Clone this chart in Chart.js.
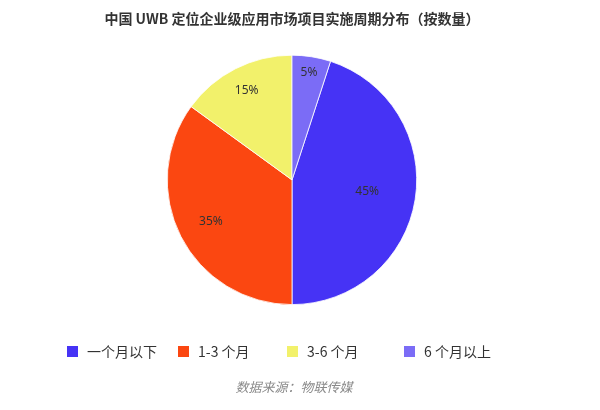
<!DOCTYPE html>
<html>
<head>
<meta charset="utf-8">
<script src="https://cdn.jsdelivr.net/npm/chart.js@4/dist/chart.umd.min.js"></script>
<style>
  body { margin: 0; background: #fff; font-family: "Noto Sans CJK SC", "Noto Sans", sans-serif; }
  #wrap { position: relative; width: 600px; height: 410px; }
  #pieChart { position: absolute; left: 0; top: 0; }
  #legend { position: absolute; top: 341px; left: 0; width: 600px; height: 20px; }
  .item { position: absolute; top: 0; display: flex; align-items: center; font-size: 14px; color: #333; white-space: nowrap; }
  .item .box { width: 11px; height: 11px; margin-right: 9px; }
  .item:nth-child(1) { left: 67px; }
  .item:nth-child(2) { left: 178px; }
  .item:nth-child(3) { left: 287px; }
  .item:nth-child(4) { left: 404px; }
  #source { position: absolute; top: 377px; left: 0; width: 588px; text-align: center; font-size: 13px; font-style: italic; color: #8a8a8a; }
</style>
</head>
<body>
<div id="wrap">
  <canvas id="pieChart" width="600" height="410"></canvas>
  <div id="legend"></div>
  <div id="source">数据来源：物联传媒</div>
</div>
<script>
const categories = ['一个月以下', '1-3 个月', '3-6 个月', '6 个月以上'];
const shares = [45, 35, 15, 5];
const colors = ['#4633f5', '#fb4711', '#f2f16b', '#7b6cf6'];

// inside labels, pushed outward more on the small slices
const labelPlugin = {
  id: 'sliceLabels',
  afterDatasetsDraw(chart, args, opts) {
    const ctx = chart.ctx;
    const meta = chart.getDatasetMeta(0);
    ctx.save();
    ctx.font = '12px "Noto Sans", "DejaVu Sans", sans-serif';
    ctx.fillStyle = '#333';
    ctx.textAlign = 'center';
    ctx.textBaseline = 'middle';
    meta.data.forEach((arc, i) => {
      const p = arc.getProps(['x', 'y', 'startAngle', 'endAngle', 'outerRadius'], true);
      const mid = (p.startAngle + p.endAngle) / 2;
      const r = p.outerRadius * opts.radius[i];
      ctx.fillText(shares[i] + '%', p.x + Math.cos(mid) * r, p.y + Math.sin(mid) * r);
    });
    ctx.restore();
  }
};

const chart = new Chart(document.getElementById('pieChart'), {
  type: 'pie',
  data: {
    labels: categories,
    datasets: [{
      data: shares,
      backgroundColor: colors,
      borderColor: '#ffffff',
      borderWidth: 0.8
    }]
  },
  options: {
    responsive: false,
    animation: false,
    rotation: 18,
    layout: { padding: { top: 0, bottom: 105, left: 0, right: 16 } },
    events: [],
    plugins: {
      legend: { display: false },
      tooltip: { enabled: false },
      title: {
        display: true,
        text: '中国 UWB 定位企业级应用市场项目实施周期分布（按数量）',
        color: '#333',
        font: { family: '"Noto Sans CJK SC", sans-serif', size: 14, weight: 'bold' },
        padding: { top: 10, bottom: 28 }
      },
      sliceLabels: { radius: [0.61, 0.73, 0.8, 0.87] }
    }
  },
  plugins: [labelPlugin]
});

const legend = document.getElementById('legend');
categories.forEach((name, i) => {
  const item = document.createElement('div');
  item.className = 'item';
  item.innerHTML = '<span class="box" style="background:' + colors[i] + '"></span>' + name;
  legend.appendChild(item);
});
</script>
</body>
</html>
